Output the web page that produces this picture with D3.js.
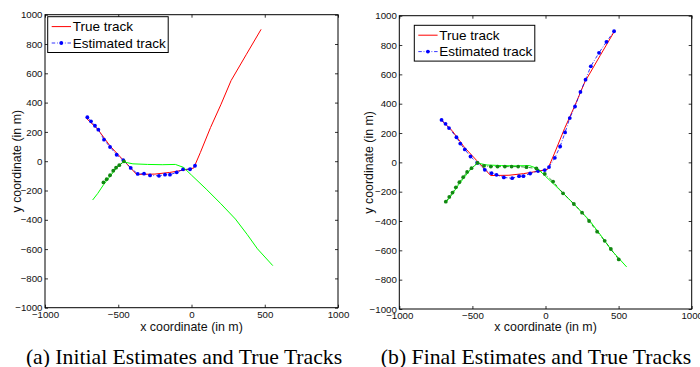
<!DOCTYPE html>
<html>
<head>
<meta charset="utf-8">
<script src="https://cdn.jsdelivr.net/npm/d3@7"></script>
<style>
  body { margin: 0; background: #fff; }
  svg { display: block; }
</style>
</head>
<body>
<div id="app"></div>
<script>
const width = 700;
const height = 367;

// tick values and labels
const xTicks = [-1000, -500, 0, 500, 1000];
const yTicks = [-1000, -800, -600, -400, -200, 0, 200, 400, 600, 800, 1000];
const legendLabels = ["True track", "Estimated track"];
const captions = ["(a) Initial Estimates and True Tracks", "(b) Final Estimates and True Tracks"];
const xLabel = "x coordinate (in m)";
const yLabel = "y coordinate (in m)";

// true tracks (same in both panels)
const trueTrack1 = [
  [-715, 290], [-640, 218], [-555, 103], [-470, 12], [-375, -90], [-250, -88],
  [-150, -77], [-50, -60], [15, -47], [60, 58], [130, 230], [200, 385],
  [270, 550], [375, 730], [475, 900]
];
const trueTrack2 = [
  [-675, -265], [-640, -220], [-600, -160], [-560, -108], [-510, -45], [-465, -5],
  [-400, -18], [-300, -22], [-200, -24], [-110, -22], [-55, -42], [0, -95],
  [100, -190], [200, -290], [300, -395], [380, -500], [450, -598], [555, -713]
];

// initial estimates (panel a)
const initEst1 = [
  [-711, 300], [-686, 272], [-659, 242], [-636, 215], [-597, 147], [-556, 97],
  [-511, 44], [-466, 8], [-415, -46], [-367, -87], [-324, -85], [-283, -97],
  [-222, -100], [-181, -92], [-147, -92], [-101, -76], [-57, -55], [-10, -55], [24, -31]
];
const initEst2 = [
  [-601, -145], [-579, -123], [-556, -96], [-534, -65], [-515, -44], [-493, -27], [-461, -1]
];

// final estimates (panel b)
const finalEst1 = [
  [-711, 289], [-684, 263], [-660, 234], [-609, 171], [-583, 128], [-552, 88],
  [-513, 40], [-467, -3], [-415, -51], [-369, -74], [-335, -85], [-285, -103],
  [-228, -108], [-181, -94], [-151, -94], [-105, -76], [-51, -59], [-5, -53],
  [24, -32], [64, 31], [100, 108], [134, 204], [166, 302], [202, 381],
  [239, 480], [274, 564], [310, 655], [366, 747], [417, 822], [469, 894]
];
const finalEst2 = [
  [-682, -268], [-658, -236], [-636, -206], [-613, -170], [-589, -135], [-563, -101],
  [-536, -65], [-506, -40], [-465, -3], [-420, -24], [-374, -29], [-328, -29],
  [-278, -29], [-232, -29], [-187, -29], [-130, -33], [-62, -42], [-5, -79],
  [52, -131], [120, -211], [194, -284], [250, -343], [298, -400], [353, -473],
  [405, -535], [447, -591], [501, -662]
];

const panels = [
  { left: 45, right: 338, top: 14.7, bottom: 307.7, legendX: 47.7, legendY: 16.7,
    captionX: 184, yLabelX: 20.8, caption: captions[0], est1: initEst1, est2: initEst2 },
  { left: 399.3, right: 691.7, top: 15.7, bottom: 309, legendX: 414.3, legendY: 25.3,
    captionX: 536, yLabelX: 373, caption: captions[1], est1: finalEst1, est2: finalEst2 }
];

const tickFont = "9.7px 'Liberation Sans', Arial, sans-serif";
const labelFont = "12.4px 'Liberation Sans', Arial, sans-serif";
const legendFont = "13.5px 'Liberation Sans', Arial, sans-serif";
const captionFont = "21.7px 'Liberation Serif', 'Times New Roman', serif";
const estDash = "3.5,1.8,0.8,1.8";
const fmt = d3.format("d");

const svg = d3
  .select("div#app")
  .append("svg")
  .attr("width", width)
  .attr("height", height)
  .attr("viewBox", `0 0 ${width} ${height}`);

panels.forEach((p) => {
  const xScale = d3.scaleLinear().domain([-1000, 1000]).range([p.left, p.right]);
  const yScale = d3.scaleLinear().domain([-1000, 1000]).range([p.bottom, p.top]);
  const line = d3.line().x((d) => xScale(d[0])).y((d) => yScale(d[1]));

  const g = svg.append("g");

  // axes with inward ticks on all four sides
  const axes = [
    { axis: d3.axisBottom(xScale).tickValues(xTicks), t: `translate(0,${p.bottom})`, labels: true, pad: 3.5 },
    { axis: d3.axisLeft(yScale).tickValues(yTicks), t: `translate(${p.left},0)`, labels: true, pad: 2.5 },
    { axis: d3.axisTop(xScale).tickValues(xTicks), t: `translate(0,${p.top})`, labels: false, pad: 0 },
    { axis: d3.axisRight(yScale).tickValues(yTicks), t: `translate(${p.right},0)`, labels: false, pad: 0 }
  ];
  axes.forEach((a) => {
    a.axis.tickSizeInner(-3).tickSizeOuter(0).tickPadding(a.pad)
      .tickFormat(a.labels ? fmt : "");
    const ag = g.append("g").attr("transform", a.t).call(a.axis);
    ag.select(".domain").remove();
    ag.selectAll("line").attr("stroke", "#000").attr("stroke-width", 0.8);
    ag.selectAll("text").style("font", tickFont).attr("fill", "#111");
  });

  // tracks
  g.append("path").datum(trueTrack1).attr("d", line)
    .attr("fill", "none").attr("stroke", "#ff0000").attr("stroke-width", 1);
  g.append("path").datum(p.est1).attr("d", line)
    .attr("fill", "none").attr("stroke", "#0000ff").attr("stroke-width", 0.8)
    .attr("stroke-dasharray", estDash);
  g.selectAll(".dot1").data(p.est1).enter().append("circle")
    .attr("cx", (d) => xScale(d[0])).attr("cy", (d) => yScale(d[1]))
    .attr("r", 1.9).attr("fill", "#0000ff");

  g.append("path").datum(trueTrack2).attr("d", line)
    .attr("fill", "none").attr("stroke", "#00ff00").attr("stroke-width", 1);
  g.append("path").datum(p.est2).attr("d", line)
    .attr("fill", "none").attr("stroke", "#008000").attr("stroke-width", 0.8)
    .attr("stroke-dasharray", estDash);
  g.selectAll(".dot2").data(p.est2).enter().append("circle")
    .attr("cx", (d) => xScale(d[0])).attr("cy", (d) => yScale(d[1]))
    .attr("r", 1.9).attr("fill", "#118811");

  // plot box
  g.append("rect")
    .attr("x", p.left).attr("y", p.top)
    .attr("width", p.right - p.left).attr("height", p.bottom - p.top)
    .attr("fill", "none").attr("stroke", "#000").attr("stroke-width", 1);

  // axis labels
  g.append("text")
    .attr("x", (p.left + p.right) / 2).attr("y", 331)
    .attr("text-anchor", "middle").style("font", labelFont).attr("fill", "#111")
    .text(xLabel);
  g.append("text")
    .attr("transform", `translate(${p.yLabelX},${(p.top + p.bottom) / 2}) rotate(-90)`)
    .attr("text-anchor", "middle").style("font", labelFont).attr("fill", "#111")
    .text(yLabel);

  // legend
  const legend = g.append("g").attr("transform", `translate(${p.legendX},${p.legendY})`);
  legend.append("rect")
    .attr("width", 120.5).attr("height", 35.8)
    .attr("fill", "#fff").attr("stroke", "#000").attr("stroke-width", 1);
  const rows = [
    { color: "#ff0000", dash: null, dot: false },
    { color: "#0000ff", dash: estDash, dot: true }
  ];
  rows.forEach((r, i) => {
    const ry = 9.9 + i * 16.4;
    legend.append("line")
      .attr("x1", 4).attr("x2", 23.3).attr("y1", ry).attr("y2", ry)
      .attr("stroke", r.color).attr("stroke-width", r.dot ? 0.8 : 1)
      .attr("stroke-dasharray", r.dash);
    if (r.dot) {
      legend.append("circle").attr("cx", 13.6).attr("cy", ry).attr("r", 1.9).attr("fill", r.color);
    }
    legend.append("text")
      .attr("x", 25).attr("y", ry + 4.8)
      .style("font", legendFont).attr("fill", "#000")
      .text(legendLabels[i]);
  });

  // caption
  svg.append("text")
    .attr("x", p.captionX).attr("y", 363.5)
    .attr("text-anchor", "middle").style("font", captionFont).attr("fill", "#000")
    .text(p.caption);
});
</script>
</body>
</html>
